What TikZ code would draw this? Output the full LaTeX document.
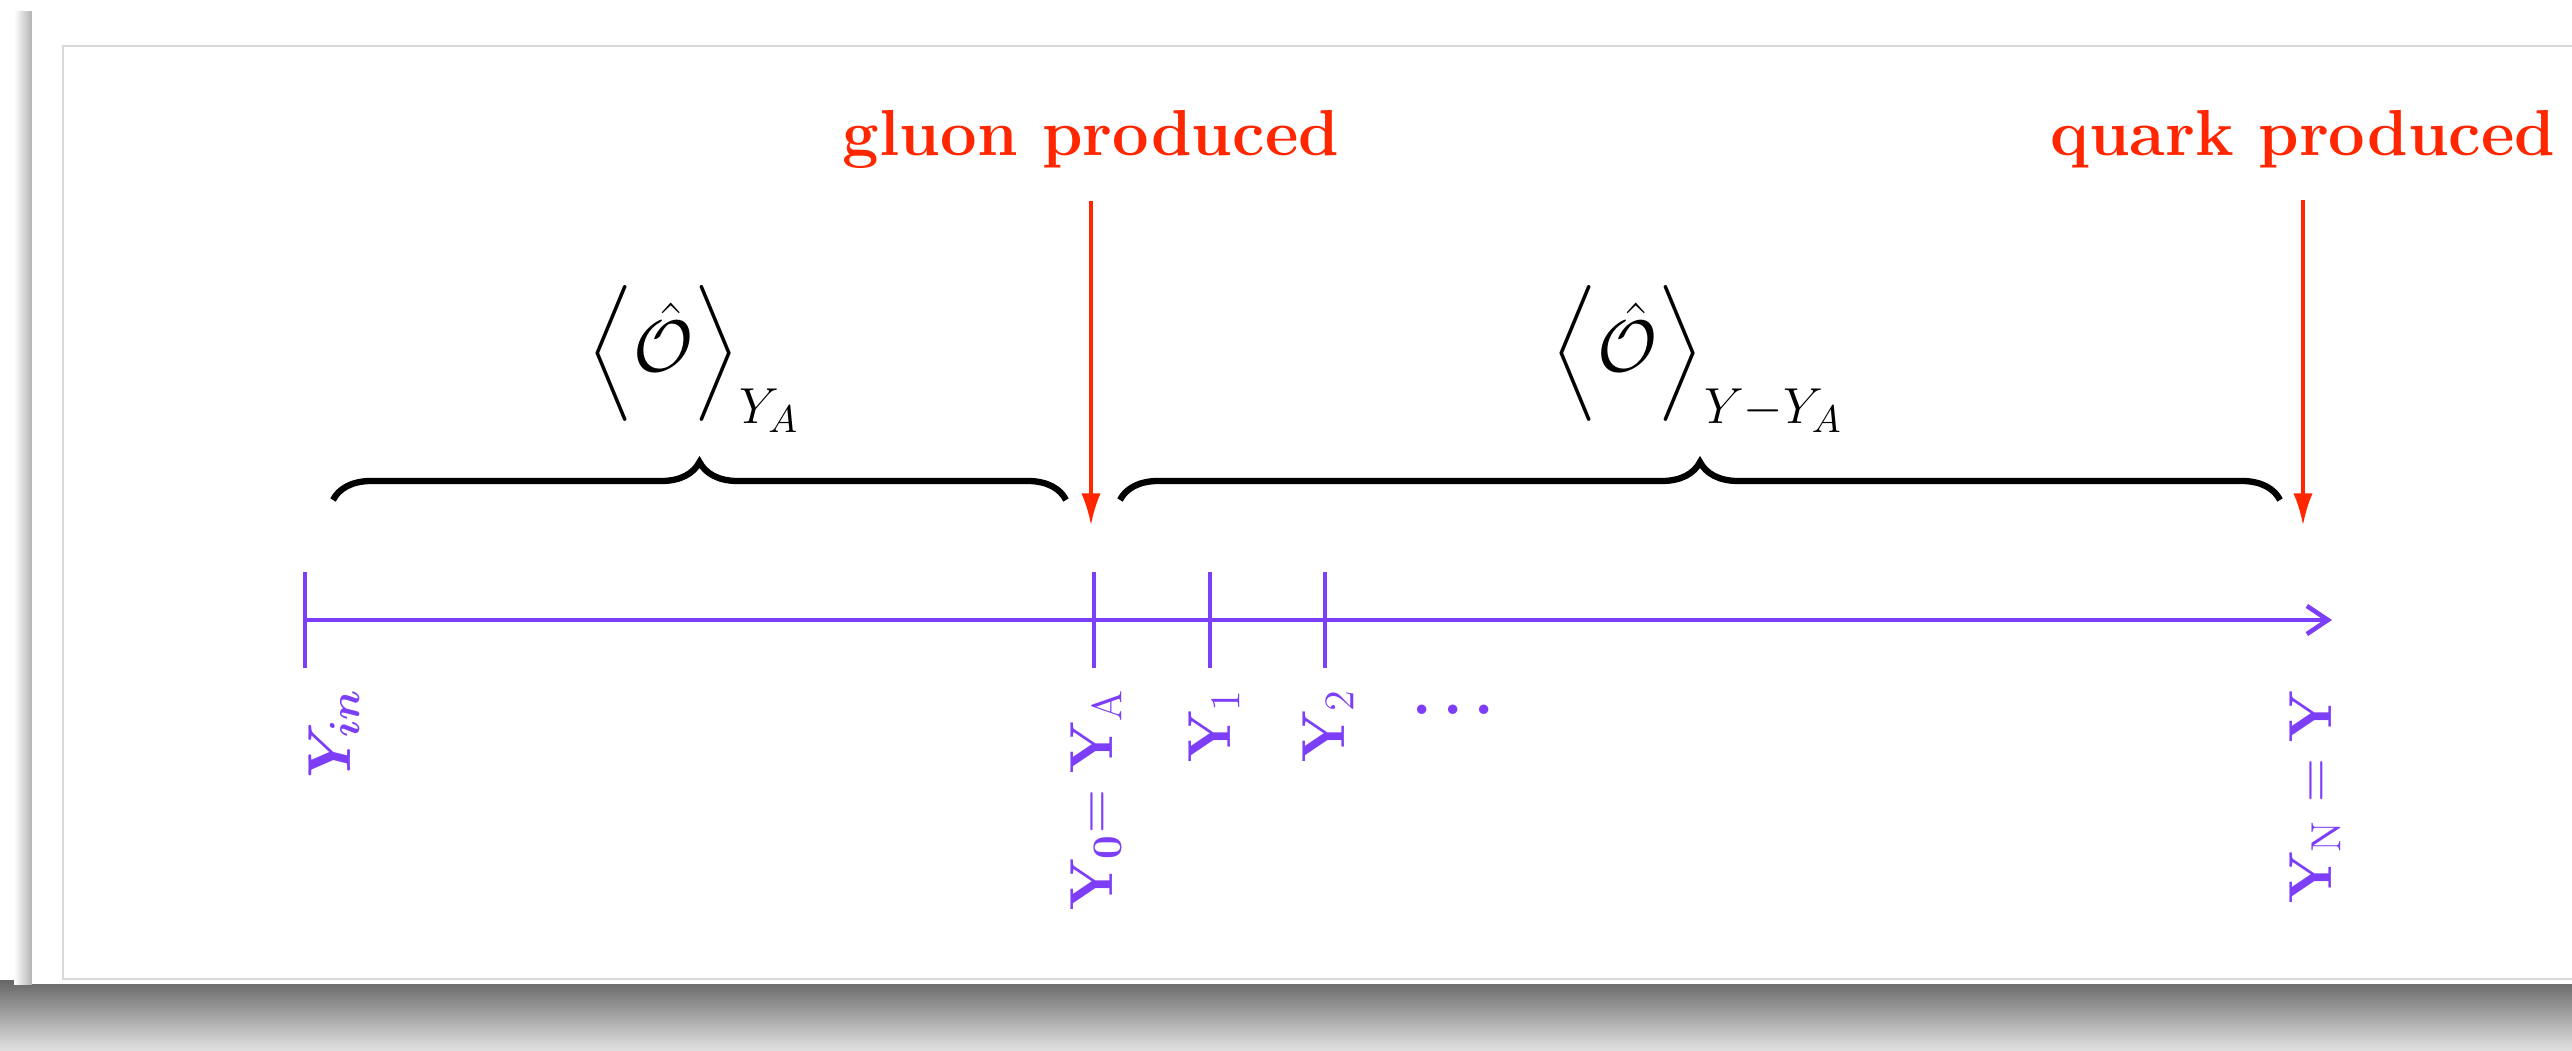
\documentclass[tikz,border=0pt]{standalone}
\usepackage{amsmath,amssymb,bm}
\usetikzlibrary{arrows.meta,decorations.pathreplacing}

\definecolor{prodred}{RGB}{255,38,0}
\definecolor{yaxis}{RGB}{125,62,247}

\begin{document}
\begin{tikzpicture}[
  prod/.style={
    font=\fontsize{18.5}{22}\selectfont\bfseries,
    text=prodred, inner sep=0pt, anchor=base
  },
  parr/.style={-{Latex[length=9pt,width=5.5pt]}, line width=0.9pt, draw=prodred},
  brc/.style={decorate, decoration={brace, amplitude=0.38cm}, line width=1.8pt},
  expv/.style={font=\fontsize{21.5}{26}\selectfont, inner sep=0pt},
  axis/.style={line width=1.3pt, draw=yaxis},
  ylab/.style={
    rotate=90, anchor=east, inner sep=0pt,
    text=yaxis, font=\fontsize{18}{21}\selectfont
  }
]
\useasboundingbox (0,0) rectangle (25.72,10.50);

%% ── Card and shadow ─────────────────────────────────────────────────
\shade[top color=black!60, bottom color=black!12] (0,0) rectangle (25.72,0.70);
\shade[left color=white, right color=black!30] (0.14,0.66) rectangle (0.32,10.38);
\fill[white] (0.32,0.66) rectangle (25.72,10.38);
\draw[black!15, line width=0.6pt] (0.63,0.71) rectangle (25.90,10.04);

%% ── Production labels and arrows ────────────────────────────────────
\node[prod] (gluon) at (10.91,8.94) {gluon produced};
\node[prod] (quark) at (23.03,8.94) {quark produced};

\coordinate (gtip) at (10.91,5.25);
\coordinate (qtip) at (23.03,5.25);
\draw[parr] ([yshift=-0.31cm]gluon.south) -- (gtip);
\draw[parr] ([yshift=-0.31cm]quark.south) -- (qtip);

%% ── Braces with expectation values ──────────────────────────────────
\coordinate (bl1) at (3.33,5.50);
\coordinate (bl2) at (10.66,5.50);
\coordinate (br1) at (11.20,5.50);
\coordinate (br2) at (22.80,5.50);
\draw[brc] (bl1) -- (bl2);
\draw[brc] (br1) -- (br2);

\node[expv] (expA) at (6.94,6.91) {$\left\langle\hat{\mathcal{O}}\right\rangle_{Y_A}$};
\node[expv] (expB) at (16.98,6.91) {$\left\langle\hat{\mathcal{O}}\right\rangle_{Y-Y_A}$};

%% ── Rapidity axis ───────────────────────────────────────────────────
\coordinate (yin)  at (3.05,4.30);
\coordinate (ya)   at (10.94,4.30);
\coordinate (y1)   at (12.10,4.30);
\coordinate (y2)   at (13.25,4.30);
\coordinate (yend) at (23.32,4.30);

\draw[axis, -{Straight Barb[length=6pt,width=8pt]}] (yin) -- (yend);
\foreach \t in {yin,ya,y1,y2}
  \draw[axis] ([yshift=0.48cm]\t) -- ([yshift=-0.48cm]\t);

%% labels under the ticks, turned upright
\node[ylab] (lin) at (3.34,3.62)  {$\boldsymbol{Y_{in}}$};
\node[ylab] (l0)  at (10.96,3.62) {$\mathbf{Y}_{\mathbf{0}}{=}\;\mathbf{Y}_{\mathrm{A}}$};
\node[ylab] (l1)  at (12.14,3.62) {$\mathbf{Y}_1$};
\node[ylab] (l2)  at (13.28,3.62) {$\mathbf{Y}_2$};
\node[ylab] (lN)  at (23.15,3.62) {$\mathbf{Y}_{\mathrm{N}}=\mathbf{Y}$};
\node[text=yaxis, font=\fontsize{18}{21}\selectfont, inner sep=0pt] (dots) at (14.53,3.40) {$\boldsymbol{\ldots}$};

\end{tikzpicture}
\end{document}
